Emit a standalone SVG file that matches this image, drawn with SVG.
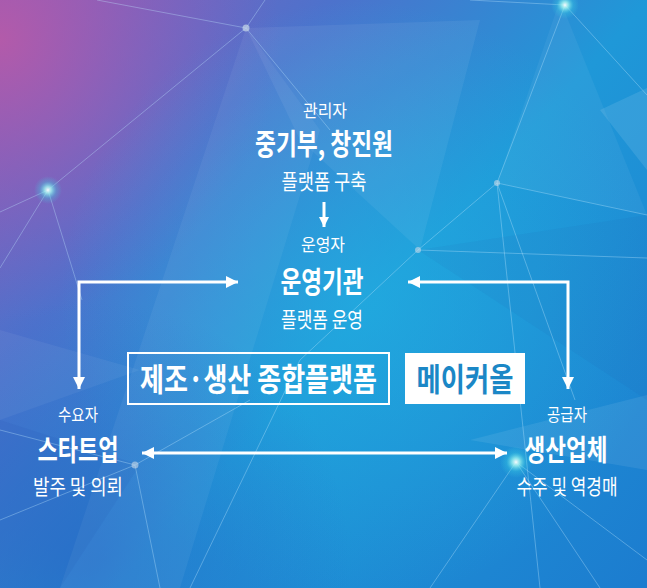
<svg xmlns="http://www.w3.org/2000/svg" width="647" height="588" viewBox="0 0 647 588">
<defs>
<linearGradient id="bg" x1="0" y1="0" x2="647" y2="588" gradientUnits="userSpaceOnUse">
<stop offset="0" stop-color="#8e5cb6"/>
<stop offset="0.28" stop-color="#4d72cc"/>
<stop offset="0.55" stop-color="#1f98d8"/>
<stop offset="1" stop-color="#1c7ccf"/>
</linearGradient>
<radialGradient id="purple" cx="0" cy="40" r="280" gradientUnits="userSpaceOnUse">
<stop offset="0" stop-color="#b85aa8" stop-opacity="0.9"/>
<stop offset="1" stop-color="#8a5cc0" stop-opacity="0"/>
</radialGradient>
<radialGradient id="cyan" cx="360" cy="300" r="300" gradientUnits="userSpaceOnUse">
<stop offset="0" stop-color="#22b2e2" stop-opacity="0.6"/>
<stop offset="1" stop-color="#22b2e2" stop-opacity="0"/>
</radialGradient>
<radialGradient id="deep" cx="90" cy="560" r="260" gradientUnits="userSpaceOnUse">
<stop offset="0" stop-color="#2c5ec4" stop-opacity="0.55"/>
<stop offset="1" stop-color="#2c5ec4" stop-opacity="0"/>
</radialGradient>
<radialGradient id="glow">
<stop offset="0" stop-color="#ffffff" stop-opacity="0.95"/>
<stop offset="0.25" stop-color="#9ff5f0" stop-opacity="0.8"/>
<stop offset="0.6" stop-color="#3fd6e6" stop-opacity="0.3"/>
<stop offset="1" stop-color="#3fd6e6" stop-opacity="0"/>
</radialGradient>
<marker id="ah" viewBox="0 0 12 12" refX="12" refY="6" markerWidth="12" markerHeight="12" markerUnits="userSpaceOnUse" orient="auto-start-reverse">
<path d="M0,0 L12,6 L0,12 z" fill="#ffffff"/>
</marker>
<marker id="ahs" viewBox="0 0 10 10" refX="10" refY="5" markerWidth="10" markerHeight="10" markerUnits="userSpaceOnUse" orient="auto-start-reverse">
<path d="M0,0 L10,5 L0,10 z" fill="#ffffff"/>
</marker>
</defs>
<style>
text { font-family: "Noto Sans CJK KR", "Noto Sans", sans-serif; fill: #ffffff; text-anchor: middle; }
.role { font-size: 17px; font-weight: 400; }
.name { font-size: 29px; font-weight: 700; }
.desc { font-size: 21px; font-weight: 400; }
.box { font-size: 32px; font-weight: 700; }
.conn { fill: none; stroke: #ffffff; stroke-width: 3; }
.net { stroke: #bfe8ff; stroke-opacity: 0.35; stroke-width: 1; fill: none; }
.facetL { fill: #ffffff; }
.facetD { fill: #1a3fa0; }
</style>

<g id="background">
<rect x="0" y="0" width="647" height="588" fill="url(#bg)"/>
<rect x="0" y="0" width="647" height="588" fill="url(#purple)"/>
<rect x="0" y="0" width="647" height="588" fill="url(#cyan)"/>
<rect x="0" y="0" width="647" height="588" fill="url(#deep)"/>
<polygon class="facetL" opacity="0.06" points="246,28 480,20 420,250 300,140"/>
<polygon class="facetL" opacity="0.05" points="246,28 320,130 180,588 60,588"/>
<polygon class="facetL" opacity="0.10" points="600,110 647,88 647,170"/>
<polygon class="facetL" opacity="0.08" points="470,440 647,395 647,470"/>
<polygon class="facetL" opacity="0.05" points="0,330 140,370 0,420"/>
<polygon class="facetD" opacity="0.08" points="0,420 140,465 60,588 0,588"/>
<polygon class="facetD" opacity="0.06" points="418,250 647,215 647,400"/>
<polygon class="facetL" opacity="0.05" points="497,183 647,215 560,0"/>
<g class="net">
<line x1="97" y1="0" x2="246" y2="28"/>
<line x1="246" y1="28" x2="265" y2="0"/>
<line x1="246" y1="28" x2="48" y2="190"/>
<line x1="246" y1="28" x2="330" y2="130"/>
<line x1="48" y1="190" x2="0" y2="212"/>
<line x1="48" y1="190" x2="0" y2="268"/>
<line x1="48" y1="190" x2="82" y2="300"/>
<line x1="418" y1="250" x2="497" y2="183"/>
<line x1="418" y1="250" x2="647" y2="258"/>
<line x1="418" y1="250" x2="300" y2="360"/>
<line x1="497" y1="183" x2="647" y2="215"/>
<line x1="497" y1="183" x2="575" y2="400"/>
<line x1="497" y1="183" x2="540" y2="588"/>
<line x1="497" y1="183" x2="565" y2="5"/>
<line x1="565" y1="5" x2="647" y2="95"/>
<line x1="565" y1="5" x2="470" y2="0"/>
<line x1="135" y1="465" x2="0" y2="520"/>
<line x1="135" y1="465" x2="160" y2="588"/>
<line x1="135" y1="465" x2="250" y2="400"/>
<line x1="135" y1="465" x2="0" y2="430"/>
<line x1="516" y1="462" x2="647" y2="560"/>
<line x1="516" y1="462" x2="600" y2="588"/>
<line x1="516" y1="462" x2="430" y2="588"/>
<line x1="190" y1="588" x2="300" y2="360"/>
</g>
<circle cx="246" cy="28" r="3.5" fill="#c8d8e8" opacity="0.7"/>
<circle cx="497" cy="183" r="3" fill="#c8d8e8" opacity="0.6"/>
<circle cx="418" cy="250" r="3" fill="#c8d8e8" opacity="0.6"/>
<circle cx="135" cy="465" r="3.5" fill="#c8d8e8" opacity="0.6"/>
<circle cx="48" cy="190" r="14" fill="url(#glow)"/>
<circle cx="565" cy="5" r="14" fill="url(#glow)"/>
<circle cx="516" cy="462" r="16" fill="url(#glow)"/>
</g>

<g id="connectors">
<path class="conn" d="M324,202 V227" stroke-width="2.5" marker-end="url(#ahs)"/>
<path class="conn" d="M79,389 V282 H238" marker-start="url(#ah)" marker-end="url(#ah)"/>
<path class="conn" d="M408,282 H568 V389" marker-start="url(#ah)" marker-end="url(#ah)"/>
<path class="conn" d="M142,453 H507" marker-start="url(#ah)" marker-end="url(#ah)"/>
</g>

<g id="node-manager">
<text class="role" x="325" y="117" textLength="44" lengthAdjust="spacingAndGlyphs">관리자</text>
<text class="name" x="324" y="155" textLength="138" lengthAdjust="spacingAndGlyphs">중기부, 창진원</text>
<text class="desc" x="324" y="189" textLength="85" lengthAdjust="spacingAndGlyphs">플랫폼 구축</text>
</g>

<g id="node-operator">
<text class="role" x="323" y="251" textLength="44" lengthAdjust="spacingAndGlyphs">운영자</text>
<text class="name" x="322" y="293" textLength="83" lengthAdjust="spacingAndGlyphs">운영기관</text>
<text class="desc" x="322" y="327" textLength="82" lengthAdjust="spacingAndGlyphs">플랫폼 운영</text>
</g>

<g id="node-platform">
<rect x="128" y="353" width="261" height="51" fill="none" stroke="#ffffff" stroke-width="2"/>
<text class="box" transform="translate(258.5,391) scale(0.8,1)" x="0" y="0" textLength="296" lengthAdjust="spacingAndGlyphs">제조·생산 종합플랫폼</text>
</g>

<g id="node-makerall">
<rect x="405" y="353" width="120" height="51" fill="#ffffff"/>
<text class="box" transform="translate(465,391) scale(0.8,1)" x="0" y="0" textLength="121" lengthAdjust="spacingAndGlyphs" style="fill:#1b87c6">메이커올</text>
</g>

<g id="node-startup">
<text class="role" x="78" y="421" textLength="40" lengthAdjust="spacingAndGlyphs">수요자</text>
<text class="name" x="78" y="461" textLength="81" lengthAdjust="spacingAndGlyphs">스타트업</text>
<text class="desc" x="78" y="494" textLength="90" lengthAdjust="spacingAndGlyphs">발주 및 의뢰</text>
</g>

<g id="node-manufacturer">
<text class="role" x="567" y="421" textLength="40" lengthAdjust="spacingAndGlyphs">공급자</text>
<text class="name" x="566" y="461" textLength="83" lengthAdjust="spacingAndGlyphs">생산업체</text>
<text class="desc" x="567" y="494" textLength="101" lengthAdjust="spacingAndGlyphs">수주 및 역경매</text>
</g>
</svg>
